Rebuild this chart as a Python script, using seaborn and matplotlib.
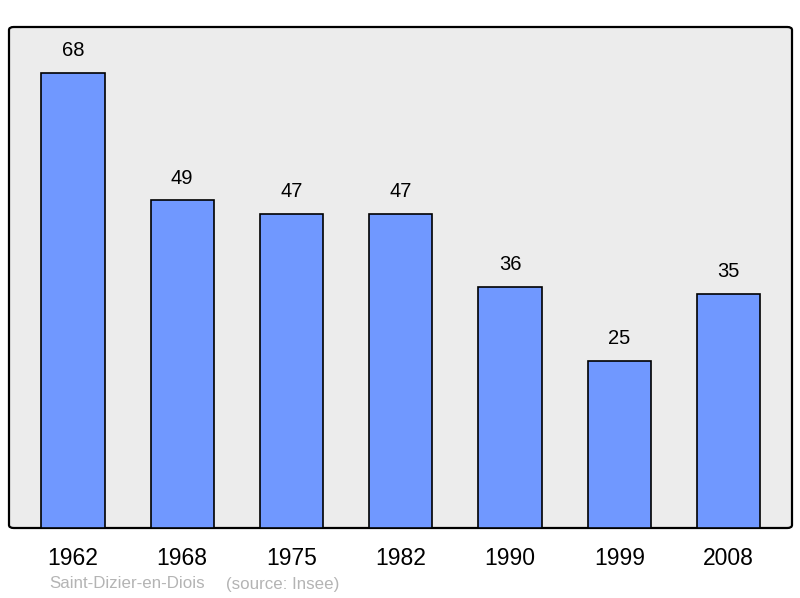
import numpy as np
import pandas as pd
import matplotlib
matplotlib.use("Agg")
import matplotlib.pyplot as plt
import seaborn as sns
from matplotlib.patches import FancyBboxPatch

years = ["1962", "1968", "1975", "1982", "1990", "1999", "2008"]
population = [68, 49, 47, 47, 36, 25, 35]
commune = "Saint-Dizier-en-Diois"
source = "(source: Insee)"

df = pd.DataFrame({"year": years, "pop": population})

sns.set_style("white")
plt.rcParams["font.family"] = ["Liberation Sans", "DejaVu Sans"]
plt.rcParams["text.color"] = "black"
plt.rcParams["xtick.color"] = "black"

fig = plt.figure(figsize=(8, 5.98), dpi=100)
ax = fig.add_axes([9 / 800, 1 - 528 / 598, 783 / 800, 501 / 598])

sns.barplot(data=df, x="year", y="pop", ax=ax, color="#7098ff",
            saturation=1, width=0.58, edgecolor="black", linewidth=1.2, zorder=3)

ax.set_xlim(-0.585, 6.58)
ax.set_ylim(0, 74.9)
ax.set_facecolor("none")
for s in ax.spines.values():
    s.set_visible(False)

# rounded background frame
frame = FancyBboxPatch((0, 0), 1, 1, boxstyle="round,pad=0,rounding_size=0.006",
                       transform=ax.transAxes, facecolor="#ececec",
                       edgecolor="black", linewidth=1.6, zorder=0, clip_on=False)
ax.add_patch(frame)

for i, v in enumerate(population):
    ax.text(i, v + 1.9, str(v), ha="center", va="bottom", fontsize=14.5,
            color="black", zorder=4)

ax.set_yticks([])
ax.set_xlabel("")
ax.set_ylabel("")
ax.tick_params(axis="x", length=0, labelsize=16.5, pad=14, labelcolor="black")

fig.text(49 / 800, 1 - 584 / 598, commune, fontsize=12.2, color="#b4b4b4", va="center")
fig.text(226 / 800, 1 - 584 / 598, source, fontsize=12.2, color="#b4b4b4", va="center")

fig.savefig("out.png", dpi=100)
